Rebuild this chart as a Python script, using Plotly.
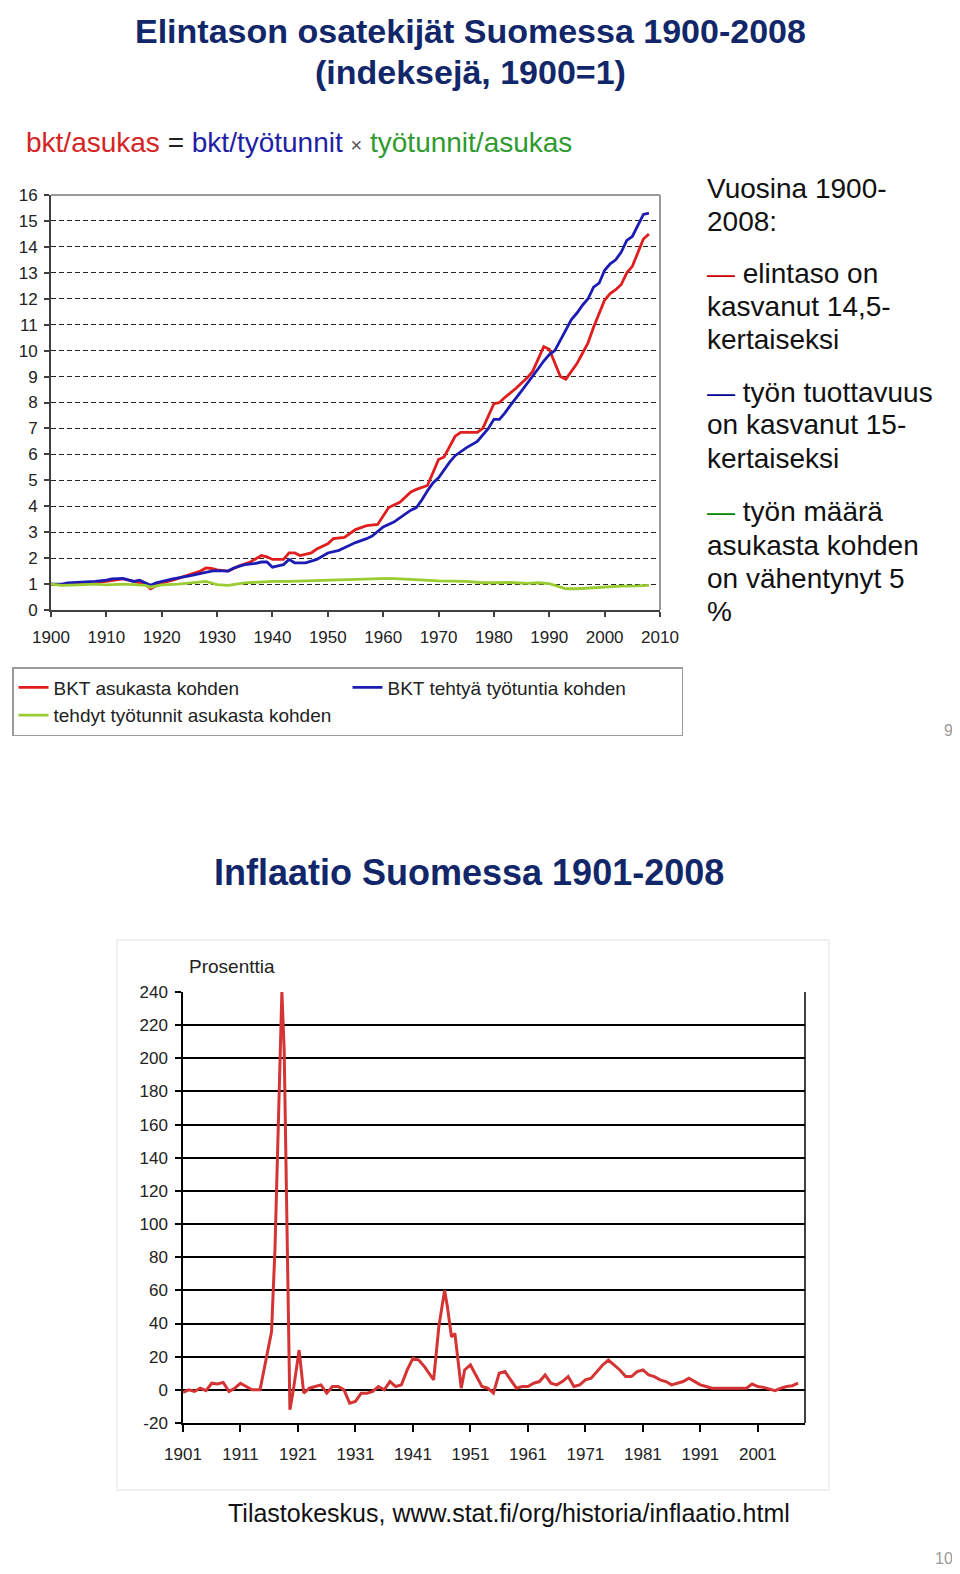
import plotly.graph_objects as go

# ---------------- data: top chart (index, 1900 = 1) ----------------
red_years = [1900, 1902, 1905, 1908, 1910, 1913, 1915, 1917, 1918, 1919, 1920, 1922, 1925, 1927, 1928, 1929,
             1930, 1932, 1934, 1936, 1938, 1939, 1940, 1942, 1943, 1944, 1945, 1947, 1948, 1950, 1951, 1953,
             1955, 1957, 1959, 1960, 1961, 1963, 1965, 1966, 1968, 1969, 1970, 1971, 1972, 1973, 1974, 1975,
             1977, 1978, 1979, 1980, 1981, 1982, 1984, 1986, 1987, 1988, 1989, 1990, 1991, 1992, 1993, 1994,
             1995, 1996, 1997, 1998, 1999, 2000, 2001, 2002, 2003, 2004, 2005, 2006, 2007, 2008]
red_vals = [1.0, 0.97, 1.03, 1.08, 1.1, 1.2, 1.1, 1.0, 0.82, 0.95, 1.05, 1.15, 1.35, 1.5, 1.62, 1.6,
            1.55, 1.5, 1.7, 1.85, 2.1, 2.05, 1.95, 1.95, 2.2, 2.2, 2.1, 2.2, 2.35, 2.55, 2.75, 2.8,
            3.1, 3.25, 3.3, 3.6, 3.95, 4.15, 4.55, 4.65, 4.8, 5.3, 5.8, 5.9, 6.3, 6.7, 6.85, 6.85,
            6.85, 7.0, 7.45, 7.95, 8.0, 8.2, 8.55, 8.95, 9.2, 9.7, 10.15, 10.05, 9.5, 9.0, 8.9, 9.2,
            9.5, 9.9, 10.3, 10.9, 11.4, 11.95, 12.2, 12.35, 12.55, 13.0, 13.25, 13.8, 14.3, 14.5]

blue_years = [1900, 1902, 1903, 1906, 1908, 1910, 1911, 1913, 1914, 1915, 1916, 1917, 1918, 1919, 1920, 1922,
              1925, 1927, 1929, 1930, 1932, 1933, 1935, 1937, 1938, 1939, 1940, 1941, 1942, 1943, 1944, 1946,
              1948, 1950, 1952, 1953, 1955, 1957, 1958, 1960, 1962, 1963, 1965, 1966, 1967, 1968, 1969, 1970,
              1971, 1972, 1973, 1974, 1975, 1977, 1978, 1979, 1980, 1981, 1982, 1983, 1985, 1987, 1988, 1989,
              1990, 1991, 1992, 1993, 1994, 1995, 1996, 1997, 1998, 1999, 2000, 2001, 2002, 2003, 2004, 2005,
              2006, 2007, 2008]
blue_vals = [1.0, 1.0, 1.05, 1.07, 1.1, 1.15, 1.2, 1.22, 1.15, 1.1, 1.15, 1.05, 0.95, 1.05, 1.1, 1.2,
             1.32, 1.42, 1.5, 1.52, 1.5, 1.62, 1.75, 1.8, 1.85, 1.85, 1.65, 1.7, 1.75, 1.95, 1.82, 1.82,
             1.95, 2.2, 2.3, 2.4, 2.6, 2.75, 2.85, 3.2, 3.4, 3.55, 3.85, 3.95, 4.25, 4.6, 4.9, 5.1,
             5.4, 5.7, 5.95, 6.1, 6.25, 6.5, 6.75, 7.0, 7.35, 7.35, 7.6, 7.9, 8.45, 9.0, 9.3, 9.6,
             9.85, 10.0, 10.4, 10.85, 11.2, 11.45, 11.75, 12.0, 12.45, 12.6, 13.1, 13.35, 13.5, 13.8, 14.25, 14.4,
             14.85, 15.25, 15.3]

green_years = [1900, 1902, 1905, 1908, 1910, 1913, 1915, 1917, 1918, 1920, 1923, 1926, 1928, 1930, 1932, 1935,
               1938, 1940, 1943, 1946, 1950, 1955, 1960, 1961, 1965, 1970, 1975, 1978, 1980, 1983, 1986, 1988,
               1990, 1991, 1992, 1993, 1995, 1997, 2000, 2003, 2006, 2008]
green_vals = [1.0, 0.95, 0.97, 1.0, 0.97, 1.0, 0.98, 0.95, 0.88, 0.97, 1.0, 1.05, 1.1, 0.98, 0.95, 1.05,
              1.08, 1.1, 1.1, 1.12, 1.15, 1.17, 1.2, 1.22, 1.18, 1.12, 1.1, 1.05, 1.05, 1.06, 1.03, 1.05,
              1.02, 0.95, 0.87, 0.82, 0.82, 0.85, 0.9, 0.92, 0.93, 0.95]

series_names = ["BKT asukasta kohden", "BKT tehtyä työtuntia kohden", "tehdyt työtunnit asukasta kohden"]
top_xticks = list(range(1900, 2011, 10))
top_yticks = list(range(0, 17))

# ---------------- data: bottom chart (inflation, %) ----------------
infl_years = [1901, 1902, 1903, 1904, 1905, 1906, 1907, 1908, 1909, 1910, 1911, 1912, 1913, 1914.4,
              1915.6, 1916.4, 1917.0, 1917.3, 1917.6, 1917.9, 1918.2, 1918.6, 1918.9, 1919.2, 1919.6,
              1920.2, 1921.2, 1922, 1923, 1924, 1925, 1926, 1927, 1928, 1929, 1930, 1931, 1932, 1933,
              1934, 1935, 1936, 1937, 1938, 1939, 1940, 1941, 1942, 1943, 1944.6, 1945.5, 1946.5, 1947.0,
              1947.7, 1948.3, 1949.4, 1950, 1951, 1952, 1953, 1954, 1955, 1956, 1957, 1958, 1959, 1960,
              1961, 1962, 1963, 1964, 1965, 1966, 1967, 1968, 1969, 1970, 1971, 1972, 1973, 1974, 1975,
              1976, 1977, 1978, 1979, 1980, 1981, 1982, 1983, 1984, 1985, 1986, 1987, 1988, 1989, 1990,
              1991, 1992, 1993, 1994, 1995, 1996, 1997, 1998, 1999, 2000, 2001, 2002, 2003, 2004, 2005,
              2006, 2007, 2008]
infl_vals = [-1.5, 0, -1, 1, -0.5, 4, 3.5, 4.5, -1, 1, 4, 2, 0, 0,
             20, 35, 85, 120, 165, 195, 240, 205, 140, 80, -12,
             0, 24, -2, 1, 2, 3, -2, 2, 2, 0, -8, -7, -2, -2,
             -1, 2, 0, 5, 2, 3, 12, 19, 18, 14, 6, 38, 60, 50,
             32, 34, 1, 12, 15, 8, 2, 1, -2, 10, 11, 6, 1, 2,
             2, 4, 5, 9, 4, 3, 5, 8, 2, 3, 6, 7, 11, 15, 18,
             15, 12, 8, 8, 11, 12, 9, 8, 6, 5, 3, 4, 5, 7, 5,
             3, 2, 1, 1, 1, 1, 1, 1, 1, 3.5, 2, 1.5, 0.5, -0.5, 1,
             2, 2.5, 4]
bottom_xticks = list(range(1901, 2002, 10))
bottom_yticks = list(range(-20, 241, 20))
bottom_ytick_labels = ["-20", "0", "20", "40", "60", "80", "100", "120", "140", "160", "180", "200", "220", "240"]

W, H = 960, 1574
OFF = 8  # the page body adds an 8px margin; map page pixels to figure pixels
FONT = "Liberation Sans, Arial, sans-serif"


def px(x):
    return (x - OFF) / W


def py(y):
    return 1 - (y - OFF) / H


fig = go.Figure()

fig.add_trace(go.Scatter(x=red_years, y=red_vals, mode="lines", name=series_names[0],
                         line=dict(color="#e01e1e", width=2.8), xaxis="x", yaxis="y"))
fig.add_trace(go.Scatter(x=blue_years, y=blue_vals, mode="lines", name=series_names[1],
                         line=dict(color="#1c1cb4", width=2.8), xaxis="x", yaxis="y"))
fig.add_trace(go.Scatter(x=green_years, y=green_vals, mode="lines", name=series_names[2],
                         line=dict(color="#9acd32", width=2.8), xaxis="x", yaxis="y"))
fig.add_trace(go.Scatter(x=infl_years, y=infl_vals, mode="lines", showlegend=False,
                         line=dict(color="#d43434", width=3), xaxis="x2", yaxis="y2"))

tickfont = dict(family=FONT, size=17, color="#222222")

fig.update_layout(
    width=W, height=H,
    margin=dict(l=0, r=0, t=0, b=0, pad=0, autoexpand=False),
    paper_bgcolor="white", plot_bgcolor="white",
    font=dict(family=FONT),
    xaxis=dict(domain=[px(51), px(660)], range=[1900, 2010], tickvals=top_xticks,
               showgrid=False, zeroline=False, showline=True, linecolor="#404040", linewidth=2,
               ticks="outside", ticklen=5, tickcolor="#404040", tickwidth=2, tickfont=tickfont,
               ticklabelstandoff=6,
               anchor="y", fixedrange=True, automargin=False),
    yaxis=dict(domain=[py(610), py(195)], range=[0, 16], tickvals=top_yticks,
               showgrid=True, gridcolor="#222222", gridwidth=1.3, griddash="5px,3px",
               zeroline=False, showline=True, linecolor="#404040", linewidth=2,
               ticks="outside", ticklen=5, tickcolor="#404040", tickwidth=2, tickfont=tickfont,
               ticklabelstandoff=3,
               anchor="x", fixedrange=True, automargin=False),
    xaxis2=dict(domain=[px(183), px(805)], range=[1901, 2009.2], tickvals=bottom_xticks,
                showgrid=False, zeroline=False, showline=True, linecolor="black", linewidth=1.5,
                ticks="outside", ticklen=7, tickcolor="black", tickwidth=1.5, tickfont=tickfont,
                ticklabelstandoff=8,
                anchor="y2", fixedrange=True, automargin=False),
    yaxis2=dict(domain=[py(1423), py(992)], range=[-20, 240], tickvals=bottom_yticks,
                ticktext=bottom_ytick_labels,
                showgrid=True, gridcolor="black", gridwidth=1.5,
                zeroline=False, showline=True, linecolor="black", linewidth=1.5,
                ticks="outside", ticklen=6, tickcolor="black", tickwidth=1.5, tickfont=tickfont,
                ticklabelstandoff=4,
                anchor="x2", fixedrange=True, automargin=False),
    legend=dict(orientation="h", x=px(12), y=py(667), xanchor="left", yanchor="top",
                bordercolor="#9a9a9a", borderwidth=1.5, bgcolor="white",
                font=dict(family=FONT, size=19, color="#222222"),
                entrywidth=289, entrywidthmode="pixels", traceorder="normal"),
    showlegend=True,
)

shapes = [
    # top chart frame (top & right, gray)
    dict(type="line", xref="x domain", yref="y domain", x0=0, x1=1, y0=1, y1=1,
         line=dict(color="#9a9a9a", width=2), layer="above"),
    dict(type="line", xref="x domain", yref="y domain", x0=1, x1=1, y0=0, y1=1,
         line=dict(color="#9a9a9a", width=2), layer="above"),
    # bottom chart right border
    dict(type="line", xref="x2 domain", yref="y2 domain", x0=1, x1=1, y0=0, y1=1,
         line=dict(color="black", width=1.5), layer="above"),
    # faint panel around bottom chart
    dict(type="rect", xref="paper", yref="paper", x0=px(117), x1=px(829), y0=py(1490), y1=py(940),
         line=dict(color="#f0f0f0", width=2), layer="below"),
]
fig.update_layout(shapes=shapes)

ann = []


def text(x, y, s, size, color="black", anchor="left", bold=False):
    if bold:
        s = "<b>" + s + "</b>"
    ann.append(dict(x=px(x), y=py(y), xref="paper", yref="paper", text=s, showarrow=False,
                    xanchor=anchor, yanchor="middle",
                    font=dict(family=FONT, size=size, color=color)))


TITLE = "#12276a"
text(470, 31, "Elintason osatekijät Suomessa 1900-2008", 34, TITLE, "center", True)
text(470, 72, "(indeksejä, 1900=1)", 34, TITLE, "center", True)

text(24, 142,
     "<span style='color:#d42424'>bkt/asukas</span> = "
     "<span style='color:#1f1fa6'>bkt/työtunnit</span> "
     "<span style='color:#555555;font-size:20px'>×</span> "
     "<span style='color:#2f9a2f'>työtunnit/asukas</span>", 28, "#222222")

R = "<span style='color:#cc0000'>—</span> "
B = "<span style='color:#000099'>—</span> "
G = "<span style='color:#008800'>—</span> "
right_lines = [
    (188, "Vuosina 1900-"), (221, "2008:"),
    (273, R + "elintaso on"), (306, "kasvanut 14,5-"), (340, "kertaiseksi"),
    (392, B + "työn tuottavuus"), (425, "on kasvanut 15-"), (459, "kertaiseksi"),
    (511, G + "työn määrä"), (545, "asukasta kohden"), (578, "on vähentynyt 5"), (611, "%"),
]
for yy, s in right_lines:
    text(705, yy, s, 28, "#111111")

text(955, 730, "9", 16, "#9a9a9a", "right")

text(469, 872, "Inflaatio Suomessa 1901-2008", 36, TITLE, "center", True)
text(187, 966, "Prosenttia", 19, "#222222")
text(226, 1513, "Tilastokeskus, www.stat.fi/org/historia/inflaatio.html", 25, "#111111")
text(955, 1558, "10", 16, "#9a9a9a", "right")

fig.update_layout(annotations=ann)

fig.write_html("out.html")
